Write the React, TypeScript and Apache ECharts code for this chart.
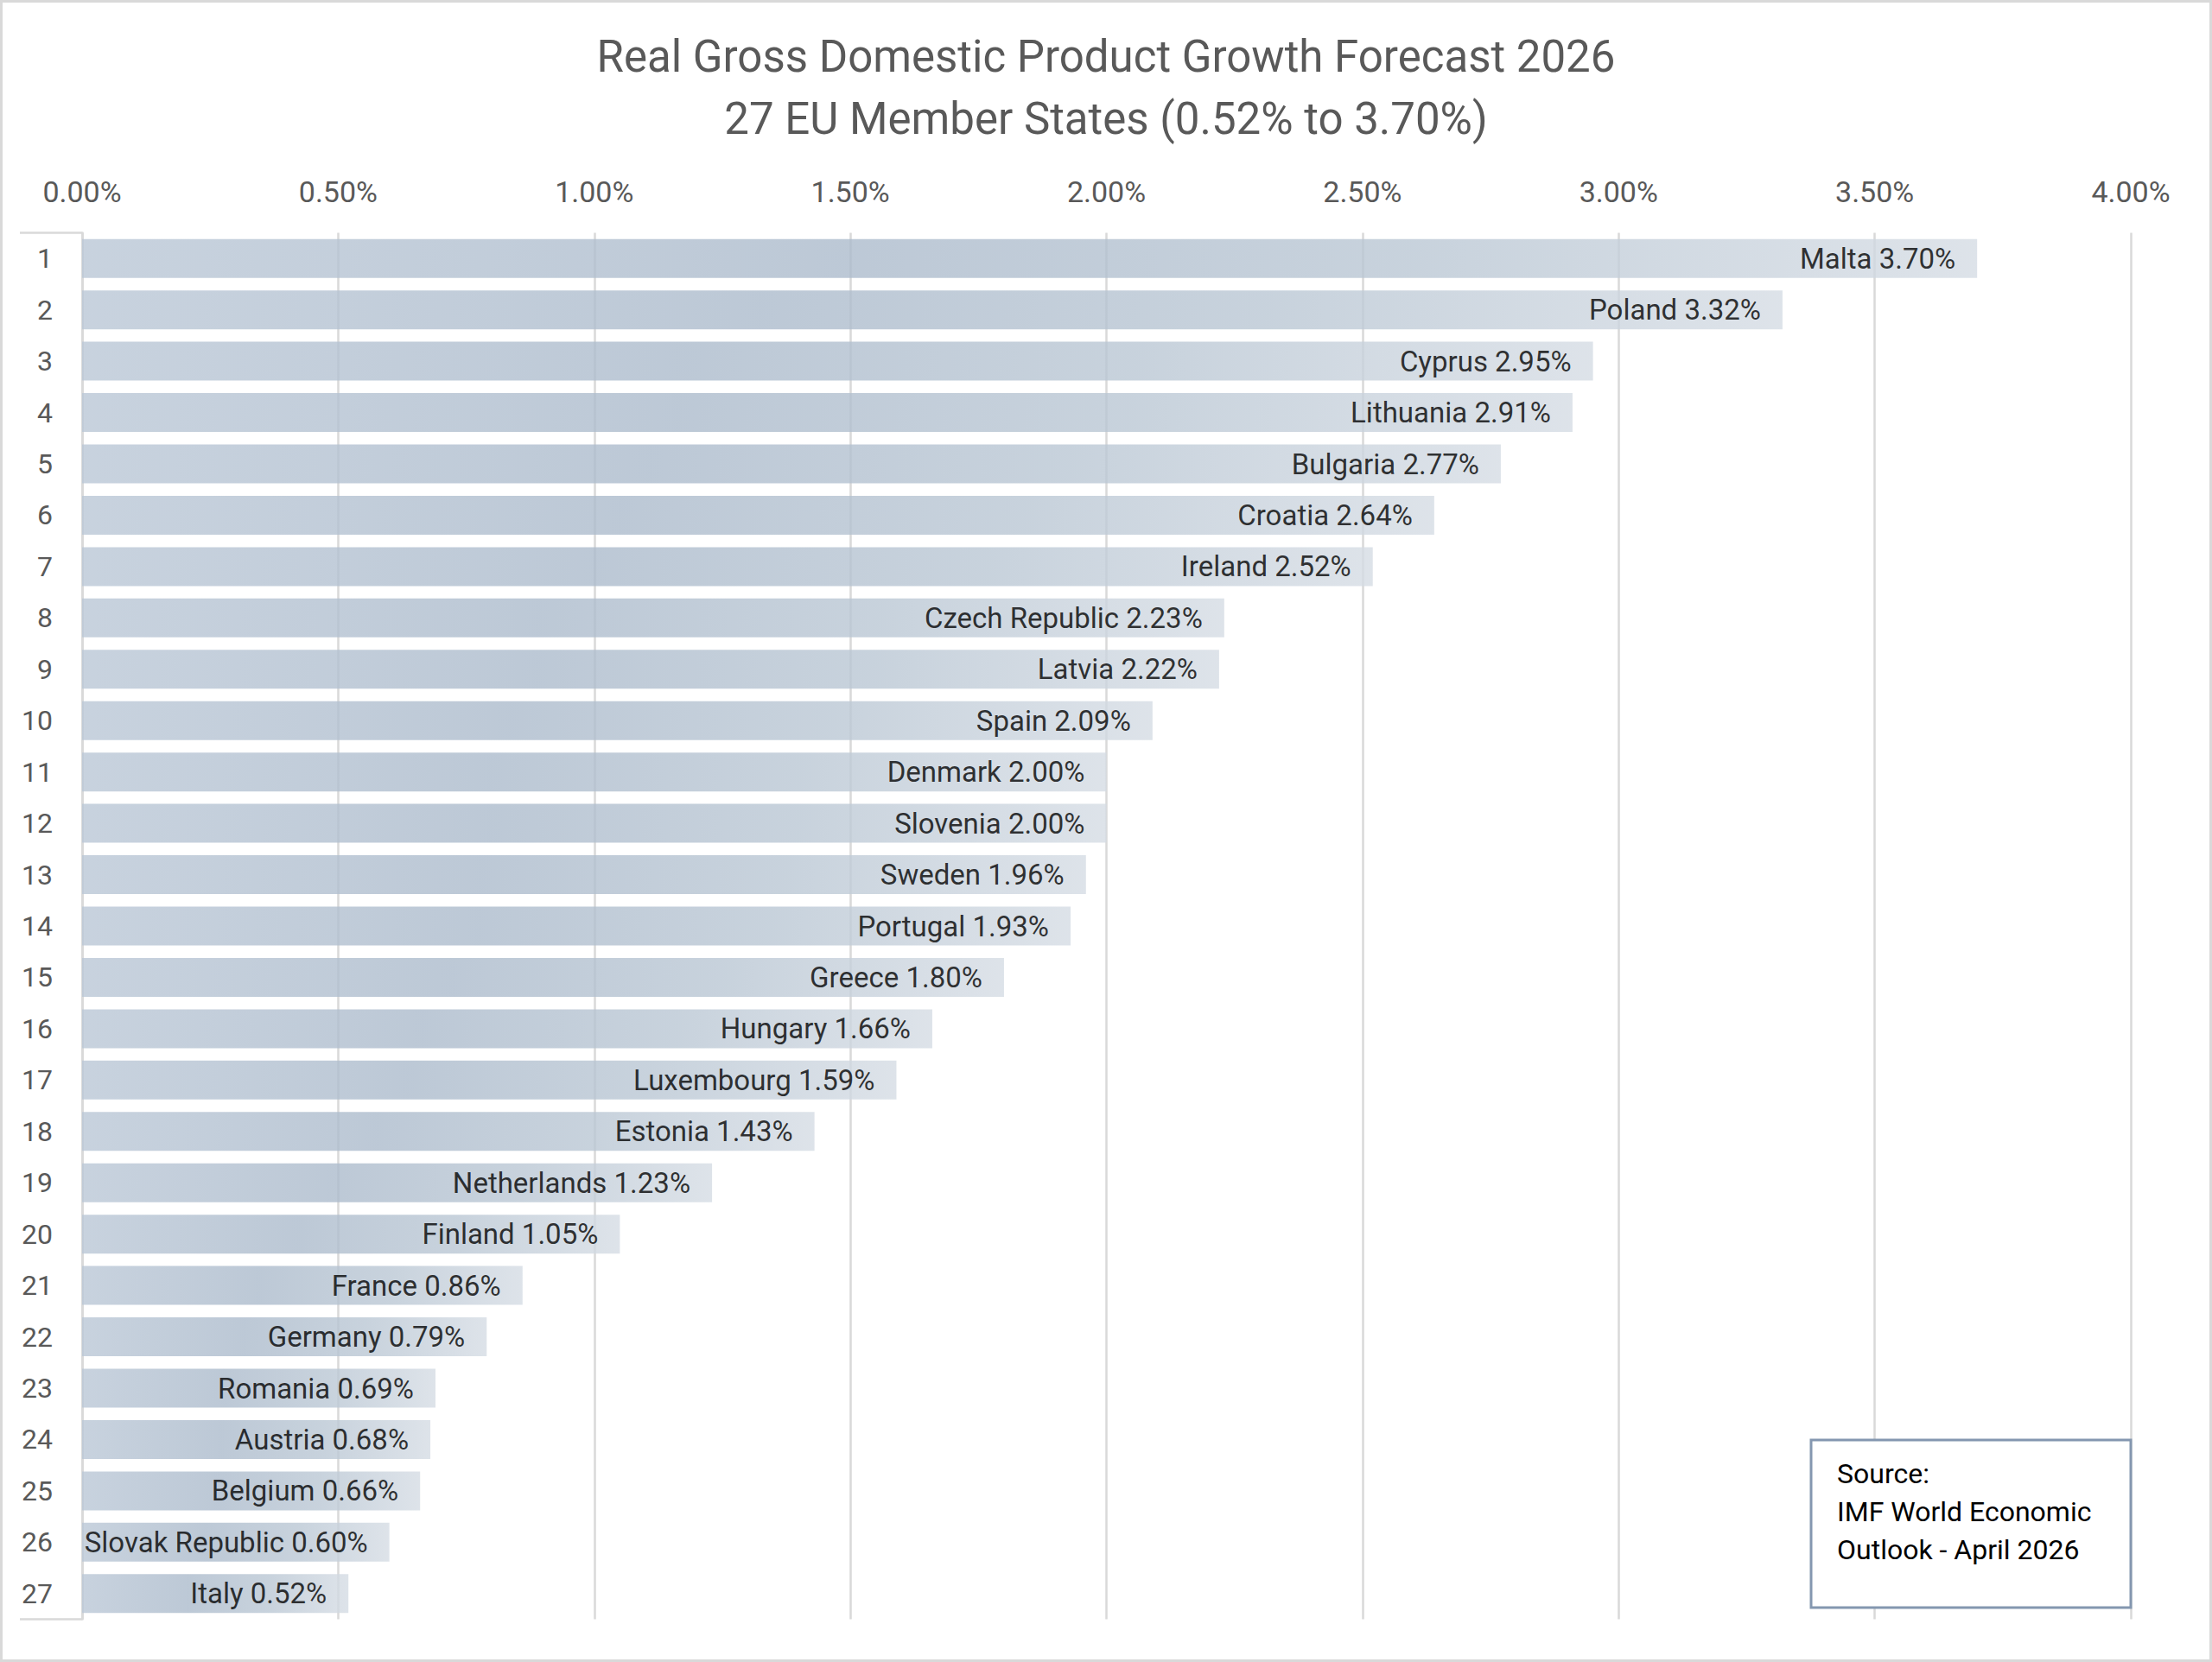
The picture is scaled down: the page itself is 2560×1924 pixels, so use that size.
import { useEffect, useRef } from 'react';
import * as echarts from 'echarts';

// ranks shown on the category axis
const ranks = [
  '1', '2', '3', '4', '5', '6', '7', '8', '9', '10', '11', '12', '13', '14',
  '15', '16', '17', '18', '19', '20', '21', '22', '23', '24', '25', '26', '27',
];

const countries = [
  'Malta', 'Poland', 'Cyprus', 'Lithuania', 'Bulgaria', 'Croatia', 'Ireland',
  'Czech Republic', 'Latvia', 'Spain', 'Denmark', 'Slovenia', 'Sweden',
  'Portugal', 'Greece', 'Hungary', 'Luxembourg', 'Estonia', 'Netherlands',
  'Finland', 'France', 'Germany', 'Romania', 'Austria', 'Belgium',
  'Slovak Republic', 'Italy',
];

// real GDP growth forecast 2026, %
const growth = [
  3.7, 3.32, 2.95, 2.91, 2.77, 2.64, 2.52, 2.23, 2.22, 2.09, 2.0, 2.0, 1.96,
  1.93, 1.8, 1.66, 1.59, 1.43, 1.23, 1.05, 0.86, 0.79, 0.69, 0.68, 0.66, 0.6,
  0.52,
];

const titleLines = [
  'Real Gross Domestic Product Growth Forecast 2026',
  '27 EU Member States (0.52% to 3.70%)',
];

const sourceLines = ['Source:', 'IMF World Economic', 'Outlook - April 2026'];

const W = 2560;
const H = 1924;
const FONT = 'Roboto';
const grid = { left: 95, right: 94, top: 269.5, bottom: 49.5 };

const App = () => {
  const box = useRef<HTMLDivElement>(null);

  useEffect(() => {
    if (!box.current) return;
    const chart = echarts.init(box.current, null, { renderer: 'svg' });

    const barFill = new echarts.graphic.LinearGradient(0, 0, 1, 0, [
      { offset: 0, color: '#bac7d6' },
      { offset: 0.4, color: '#acbbcc' },
      { offset: 0.7, color: '#bac7d4' },
      { offset: 1, color: '#d5dce4' },
    ]);

    const gridBottomY = H - grid.bottom;
    const boxX = 2096;
    const boxY = 1667;

    chart.setOption({
      animation: false,
      backgroundColor: '#ffffff',
      textStyle: { fontFamily: FONT },
      title: {
        text: titleLines.join('\n'),
        left: 'center',
        top: 24,
        textStyle: {
          fontFamily: FONT,
          fontSize: 51,
          fontWeight: 'normal',
          color: '#595959',
          lineHeight: 72,
        },
      },
      grid: { ...grid, containLabel: false, outerBoundsMode: 'none' },
      xAxis: {
        type: 'value',
        position: 'top',
        min: 0,
        max: 4,
        interval: 0.5,
        axisLine: { show: false },
        axisTick: { show: false },
        axisLabel: {
          color: '#595959',
          fontSize: 34,
          fontFamily: FONT,
          margin: 31,
          formatter: (v: number) => `${v.toFixed(2)}%`,
        },
        splitLine: { lineStyle: { color: '#d9d9d9', width: 2.5 } },
      },
      yAxis: {
        type: 'category',
        data: ranks,
        inverse: true,
        axisLine: { show: true, lineStyle: { color: '#d9d9d9', width: 2.5 } },
        axisTick: { show: false },
        axisLabel: {
          color: '#595959',
          fontSize: 32,
          fontFamily: FONT,
          margin: 34,
        },
      },
      series: [
        {
          type: 'bar',
          data: growth,
          barWidth: 45,
          itemStyle: { color: barFill, opacity: 0.8 },
          label: {
            show: true,
            position: 'insideRight',
            distance: 25,
            color: '#000000',
            fontSize: 33,
            fontFamily: FONT,
            formatter: (p: any) =>
              `${countries[p.dataIndex]} ${(p.value as number).toFixed(2)}%`,
          },
        },
      ],
      graphic: [
        {
          type: 'rect',
          shape: { x: 1.5, y: 1.5, width: W - 3, height: H - 3 },
          style: { fill: 'none', stroke: '#d9d9d9', lineWidth: 3 },
          silent: true,
        },
        {
          type: 'line',
          shape: { x1: 23, y1: grid.top, x2: grid.left, y2: grid.top },
          style: { stroke: '#d9d9d9', lineWidth: 2.5 },
          silent: true,
        },
        {
          type: 'line',
          shape: { x1: 23, y1: gridBottomY, x2: grid.left, y2: gridBottomY },
          style: { stroke: '#d9d9d9', lineWidth: 2.5 },
          silent: true,
        },
        {
          type: 'rect',
          shape: { x: boxX, y: boxY, width: W - grid.right - boxX, height: 194 },
          style: { fill: '#ffffff', stroke: '#8497b0', lineWidth: 3 },
          z: 100,
          silent: true,
        },
        ...sourceLines.map((line, i) => ({
          type: 'text',
          x: 2126,
          y: 1706 + i * 44,
          z: 101,
          silent: true,
          style: {
            text: line,
            fill: '#000000',
            fontSize: 32,
            fontFamily: FONT,
            textVerticalAlign: 'middle',
            verticalAlign: 'middle',
          },
        })),
      ],
    });

    return () => {
      chart.dispose();
    };
  }, []);

  return (
    <div
      ref={box}
      style={{ position: 'fixed', left: 0, top: 0, width: W, height: H, background: '#fff' }}
    />
  );
};

export default App;
